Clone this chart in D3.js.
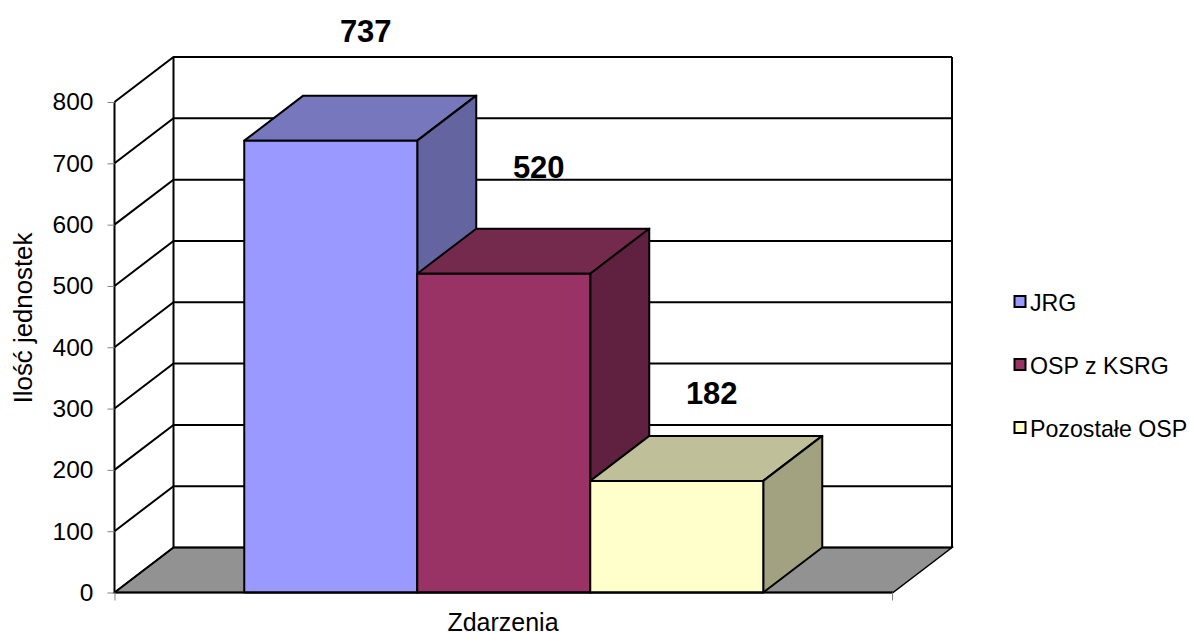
<!DOCTYPE html>
<html>
<head>
<meta charset="utf-8">
<script src="https://cdn.jsdelivr.net/npm/d3@7"></script>
<style>
  html, body { margin: 0; padding: 0; background: #fff; }
  svg { display: block; }
  text { font-family: "Liberation Sans", Arial, sans-serif; fill: #000; }
</style>
</head>
<body>
<svg width="1190" height="632"></svg>
<script>
const categories = ["JRG", "OSP z KSRG", "Pozostałe OSP"];
const values = [737, 520, 182];
const yTicks = [0, 100, 200, 300, 400, 500, 600, 700, 800];
const frontColors = ["#9999ff", "#993366", "#ffffcc"];
const topColors = ["#7777bd", "#732a4c", "#bfbf99"];
const sideColors = ["#6464a0", "#602040", "#a2a280"];
const xTitle = "Zdarzenia";
const yTitle = "Ilość jednostek";

const svg = d3.select("svg");

// front plane of the box, the back wall is the same thing shifted by depth
const plotLeft = 114.5, plotRight = 893, plotBottom = 592.5, plotTop = 102;
const depth = { x: 59, y: -45 };

const xScale = d3.scaleBand()
    .domain(categories)
    .range([plotLeft, plotRight])
    .paddingInner(0)
    .paddingOuter(0.75);

const yScale = d3.scaleLinear()
    .domain([0, 800])
    .range([plotBottom, plotTop]);

const pts = arr => arr.map(p => p.join(",")).join(" ");

// floor
svg.append("polygon")
    .attr("points", pts([
        [plotLeft, plotBottom], [plotRight, plotBottom],
        [plotRight + depth.x, plotBottom + depth.y], [plotLeft + depth.x, plotBottom + depth.y]
    ]))
    .attr("fill", "#929292")
    .attr("stroke", "#000")
    .attr("stroke-width", 1.5);

// grid on side wall and back wall
const grid = svg.append("g")
    .attr("fill", "none")
    .attr("stroke", "#000")
    .attr("stroke-width", 2);

grid.selectAll("polyline")
    .data(yTicks)
    .enter()
    .append("polyline")
    .attr("points", d => pts([
        [plotLeft, yScale(d)],
        [plotLeft + depth.x, yScale(d) + depth.y],
        [plotRight + depth.x, yScale(d) + depth.y]
    ]));

// wall edges
grid.append("line")
    .attr("x1", plotLeft).attr("x2", plotLeft)
    .attr("y1", plotTop).attr("y2", plotBottom);
grid.append("line")
    .attr("x1", plotLeft + depth.x).attr("x2", plotLeft + depth.x)
    .attr("y1", plotTop + depth.y).attr("y2", plotBottom + depth.y);
grid.append("line")
    .attr("x1", plotRight + depth.x).attr("x2", plotRight + depth.x)
    .attr("y1", plotTop + depth.y).attr("y2", plotBottom + depth.y);

// Add Y axis
const yAxis = svg.append("g")
    .attr("transform", `translate(${plotLeft},0)`)
    .call(d3.axisLeft(yScale).tickValues(yTicks).tickSize(7).tickPadding(14));
yAxis.select(".domain").remove();
yAxis.selectAll("line").attr("stroke", "#808080").attr("stroke-width", 1);
yAxis.selectAll("text")
    .attr("font-size", 24.5)
    .attr("font-family", "Liberation Sans");

// bars, left to right so each one covers the side of the one before
const bars = svg.append("g")
    .attr("stroke", "#000")
    .attr("stroke-width", 2)
    .attr("stroke-linejoin", "round");

categories.forEach((c, i) => {
    const x0 = xScale(c), x1 = x0 + xScale.bandwidth();
    const y0 = yScale(values[i]), y1 = yScale(0);
    bars.append("polygon") // top
        .attr("points", pts([
            [x0, y0], [x1, y0],
            [x1 + depth.x, y0 + depth.y], [x0 + depth.x, y0 + depth.y]
        ]))
        .attr("fill", topColors[i]);
    bars.append("polygon") // side
        .attr("points", pts([
            [x1, y0], [x1 + depth.x, y0 + depth.y],
            [x1 + depth.x, y1 + depth.y], [x1, y1]
        ]))
        .attr("fill", sideColors[i]);
    bars.append("rect")
        .attr("x", x0)
        .attr("y", y0)
        .attr("width", x1 - x0)
        .attr("height", y1 - y0)
        .attr("fill", frontColors[i]);
});

// axis baseline over the bars
svg.append("line")
    .attr("x1", plotLeft).attr("x2", plotRight)
    .attr("y1", plotBottom).attr("y2", plotBottom)
    .attr("stroke", "#000")
    .attr("stroke-width", 2);

// x ticks only at the two ends
svg.selectAll(".xtick")
    .data([plotLeft + 0.5, plotRight - 0.5])
    .enter()
    .append("line")
    .attr("class", "xtick")
    .attr("x1", d => d).attr("x2", d => d)
    .attr("y1", plotBottom).attr("y2", plotBottom + 8)
    .attr("stroke", "#808080")
    .attr("stroke-width", 1);

// value labels, excel places these loosely above the bars
const labelDy = [-99, -96, -77];
svg.selectAll(".value")
    .data(values)
    .enter()
    .append("text")
    .attr("class", "value")
    .attr("x", (d, i) => xScale(categories[i]) + xScale.bandwidth() / 2 + 35)
    .attr("y", (d, i) => yScale(d) + labelDy[i])
    .attr("text-anchor", "middle")
    .attr("font-size", 31)
    .attr("font-weight", "bold")
    .text(d => d);

// axis titles
svg.append("text")
    .attr("x", 503)
    .attr("y", 630.5)
    .attr("text-anchor", "middle")
    .attr("font-size", 25)
    .text(xTitle);

svg.append("text")
    .attr("transform", "translate(32,318) rotate(-90)")
    .attr("text-anchor", "middle")
    .attr("font-size", 25.8)
    .text(yTitle);

// legend
const legendY = d3.scalePoint()
    .domain(categories)
    .range([302, 428]);

const legend = svg.selectAll(".legend")
    .data(categories)
    .enter()
    .append("g")
    .attr("class", "legend")
    .attr("transform", d => `translate(1014,${legendY(d)})`);

legend.append("rect")
    .attr("x", 0.5)
    .attr("y", -6)
    .attr("width", 11)
    .attr("height", 11)
    .attr("fill", (d, i) => frontColors[i])
    .attr("stroke", "#000")
    .attr("stroke-width", 2);

legend.append("text")
    .attr("x", 16)
    .attr("y", 9)
    .attr("font-size", 23.2)
    .text(d => d);
</script>
</body>
</html>
